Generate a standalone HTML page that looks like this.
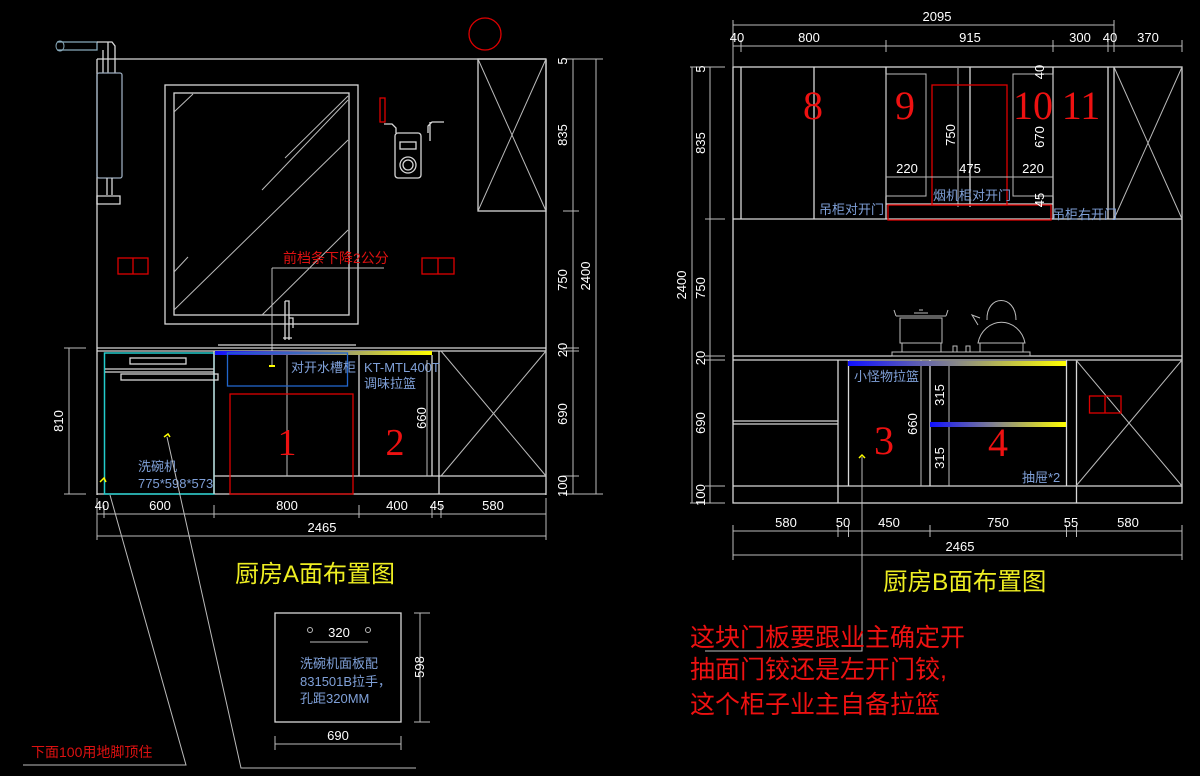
<!DOCTYPE html>
<html><head><meta charset="utf-8"><style>
html,body{margin:0;padding:0;background:#000;}
svg{display:block;}
text{font-family:"Liberation Sans","Noto Sans CJK SC",sans-serif;}
text.sf{font-family:"Liberation Serif",serif;}
.d{fill:#fff;font-size:13px;}
.w{stroke:#d8d8d8;stroke-width:1.3;fill:none;}
.g{stroke:#bbb;stroke-width:1;fill:none;}
.r{stroke:#d00;stroke-width:1.3;fill:none;}
.b{fill:#7fa0d8;font-size:13px;}
</style></head><body>
<svg width="1200" height="776" viewBox="0 0 1200 776" xmlns="http://www.w3.org/2000/svg">
<defs>
<linearGradient id="gr" x1="0" x2="1"><stop offset="0" stop-color="#1010ff"/><stop offset="0.5" stop-color="#888"/><stop offset="1" stop-color="#ffff00"/></linearGradient>
</defs>

<!-- ===== LEFT (A) ===== -->
<circle cx="485" cy="34" r="16" class="r"/>
<line x1="97" y1="59" x2="546" y2="59" class="w"/>
<line x1="97" y1="59" x2="97" y2="495" class="w"/>
<line x1="546" y1="59" x2="546" y2="495" class="w"/>
<rect x="165" y="85" width="193" height="239" class="w"/>
<rect x="174" y="93" width="175" height="222" class="w"/>
<line x1="174" y1="310" x2="348" y2="140" class="g"/>
<line x1="262" y1="315" x2="348" y2="230" class="g"/>
<line x1="262" y1="190" x2="348" y2="100" class="g"/>
<line x1="285" y1="158" x2="348" y2="96" class="g"/>
<line x1="174" y1="112" x2="193" y2="94" class="g"/>
<line x1="174" y1="272" x2="188" y2="257" class="g"/>
<rect x="478" y="59" width="68" height="152" class="w"/>
<line x1="478" y1="59" x2="546" y2="211" class="g"/><line x1="546" y1="59" x2="478" y2="211" class="g"/>
<path d="M57 42 L97 42 L97 50 L57 50" class="w" style="stroke:#8ab"/>
<ellipse cx="60" cy="46" rx="4" ry="5" class="g" style="stroke:#8ab"/>
<path d="M97 42 L112 42 L115 46 L115 73 M103 50 L103 73 M108 42 L108 73" class="w"/>
<rect x="97" y="73" width="25" height="105" rx="2" class="w" style="stroke:#9ab"/>
<path d="M107 178 L107 195 M112 178 L112 195 M97 196 L120 196 L120 204 L97 204 Z" class="w"/>
<rect x="118" y="258" width="30" height="16" class="r"/><line x1="133" y1="258" x2="133" y2="274" class="r"/>
<rect x="422" y="258" width="32" height="16" class="r"/><line x1="438" y1="258" x2="438" y2="274" class="r"/>
<rect x="380" y="98" width="5" height="24" class="r"/>
<path d="M384 124 L392 124 L396 128 L396 133 M428 133 L428 126 L432 122 L444 122 M430 122 L430 141" class="w"/>
<rect x="395" y="133" width="26" height="45" rx="3" class="w"/>
<rect x="400" y="142" width="16" height="7" class="w"/>
<circle cx="408" cy="165" r="8" class="w"/><circle cx="408" cy="165" r="5" class="w"/>
<text x="283" y="263" fill="#d11" font-size="14">前档条下降2公分</text>
<line x1="272" y1="268" x2="384" y2="268" class="g"/>
<line x1="272" y1="268" x2="272" y2="367" class="g"/>
<path d="M269 366 L275 366" stroke="#ff0" stroke-width="2"/>
<path d="M285 301 L289 301 L289 340 M285 301 L285 340 M283 338 L292 338 M289 318 L293 318 L293 328" class="w"/>
<line x1="97" y1="348" x2="546" y2="348" class="w"/>
<line x1="97" y1="351" x2="546" y2="351" class="w"/>
<line x1="218" y1="345" x2="356" y2="345" class="w"/>
<line x1="97" y1="494" x2="546" y2="494" class="w"/>
<line x1="214" y1="476" x2="546" y2="476" class="w"/>
<rect x="215" y="351" width="217" height="4" fill="url(#gr)"/>
<rect x="104.5" y="353" width="109.5" height="141" fill="none" stroke="#2cc" stroke-width="1.5"/>
<line x1="105" y1="369" x2="214" y2="369" class="w"/><line x1="105" y1="372" x2="214" y2="372" class="w"/>
<rect x="130" y="358" width="56" height="6" class="w"/>
<rect x="121" y="374" width="97" height="6" class="w"/>
<text x="138" y="471" class="b">洗碗机</text>
<text x="138" y="488" class="b" font-size="12">775*598*573</text>
<path d="M164 437 L168 434 L170 437" stroke="#ff0" fill="none" stroke-width="1.5"/>
<path d="M100 482 L104 478 L106 482" stroke="#ff0" fill="none" stroke-width="1.5"/>
<line x1="214" y1="351" x2="214" y2="494" class="w"/>
<line x1="287" y1="355" x2="287" y2="476" class="g"/>
<line x1="359" y1="355" x2="359" y2="476" class="w"/>
<line x1="432" y1="355" x2="432" y2="476" class="w"/>
<line x1="439" y1="351" x2="439" y2="494" class="w"/>
<rect x="227.5" y="353" width="120" height="33" fill="none" stroke="#26c" stroke-width="1.3"/>
<text x="291" y="372" class="b" font-size="14">对开水槽柜</text>
<rect x="230" y="394" width="123" height="100" class="r"/>
<text x="287" y="455" class="sf" fill="#e11" font-size="38" text-anchor="middle">1</text>
<text x="364" y="372" class="b" font-size="12">KT-MTL400T</text>
<text x="364" y="388" class="b" font-size="14">调味拉篮</text>
<text x="395" y="455" class="sf" fill="#e11" font-size="38" text-anchor="middle">2</text>
<line x1="427" y1="360" x2="427" y2="476" class="g"/>
<text class="d" transform="translate(426,418) rotate(-90)" text-anchor="middle">660</text>
<line x1="441" y1="351" x2="546" y2="476" class="g"/><line x1="546" y1="351" x2="441" y2="476" class="g"/>
<line x1="573" y1="59" x2="573" y2="494" class="g"/>
<line x1="596" y1="59" x2="596" y2="494" class="g"/>
<g class="g"><path d="M563 59h40 M563 211h16 M563 348h16 M563 351h16 M563 476h16 M563 494h40"/></g>
<text class="d" transform="translate(567,61) rotate(-90)" text-anchor="middle">5</text>
<text class="d" transform="translate(567,135) rotate(-90)" text-anchor="middle">835</text>
<text class="d" transform="translate(567,280) rotate(-90)" text-anchor="middle">750</text>
<text class="d" transform="translate(567,350) rotate(-90)" text-anchor="middle">20</text>
<text class="d" transform="translate(567,414) rotate(-90)" text-anchor="middle">690</text>
<text class="d" transform="translate(567,486) rotate(-90)" text-anchor="middle">100</text>
<text class="d" transform="translate(590,276) rotate(-90)" text-anchor="middle">2400</text>
<line x1="69" y1="348" x2="69" y2="494" class="g"/>
<path d="M64 348h22 M64 494h22" class="g"/>
<text class="d" transform="translate(63,421) rotate(-90)" text-anchor="middle">810</text>
<line x1="97" y1="514" x2="546" y2="514" class="g"/>
<line x1="97" y1="536" x2="546" y2="536" class="g"/>
<g class="g"><path d="M97 498v42 M104 505v13 M214 505v13 M359 505v13 M432 505v13 M441 505v13 M546 498v42"/></g>
<g class="d" text-anchor="middle"><text x="102" y="510">40</text><text x="160" y="510">600</text><text x="287" y="510">800</text><text x="397" y="510">400</text><text x="437" y="510">45</text><text x="493" y="510">580</text><text x="322" y="532">2465</text></g>
<text x="235" y="582" fill="#ee2" font-size="24">厨房A面布置图</text>
<path d="M23 765 L186 765 L110 495" class="g"/>
<path d="M416 768 L241 768 L167 437" class="g"/>
<text x="31" y="757" fill="#d11" font-size="14">下面100用地脚顶住</text>
<rect x="275" y="613" width="126" height="109" class="w"/>
<circle cx="310" cy="630" r="2.5" class="g"/><circle cx="368" cy="630" r="2.5" class="g"/>
<text x="339" y="637" class="d" text-anchor="middle">320</text>
<line x1="310" y1="642" x2="368" y2="642" class="g"/>
<text x="300" y="668" class="b">洗碗机面板配</text>
<text x="300" y="686" class="b">831501B拉手，</text>
<text x="300" y="703" class="b">孔距320MM</text>
<line x1="420" y1="613" x2="420" y2="722" class="g"/>
<path d="M414 613h16 M414 722h16" class="g"/>
<text class="d" transform="translate(424,667) rotate(-90)" text-anchor="middle">598</text>
<line x1="275" y1="744" x2="401" y2="744" class="g"/>
<path d="M275 736v14 M401 736v14" class="g"/>
<text x="338" y="740" class="d" text-anchor="middle">690</text>

<!-- ===== RIGHT (B) ===== -->
<rect x="733" y="67" width="449" height="436" class="w"/>
<line x1="733" y1="219" x2="1182" y2="219" class="w"/>
<line x1="733" y1="356" x2="1182" y2="356" class="w"/>
<line x1="733" y1="360" x2="1182" y2="360" class="w"/>
<line x1="733" y1="486" x2="1182" y2="486" class="w"/>
<g class="w"><path d="M741 67v152 M814 67v152 M886 67v152 M970 67v140 M1053 67v152 M1108 67v152 M1114 67v152"/></g>
<rect x="886" y="74" width="40" height="122" class="g"/>
<rect x="1013" y="74" width="40" height="122" class="g"/>
<line x1="958" y1="68" x2="958" y2="207" class="g"/>
<line x1="886" y1="204" x2="1053" y2="204" class="w"/>
<rect x="932" y="85" width="75" height="120" class="r"/>
<rect x="888" y="205" width="163" height="15" class="r"/>
<line x1="1114" y1="67" x2="1182" y2="219" class="g"/><line x1="1182" y1="67" x2="1114" y2="219" class="g"/>
<g fill="#e11" font-size="40" text-anchor="middle"><text class="sf" x="813" y="119">8</text><text class="sf" x="905" y="119">9</text><text class="sf" x="1033" y="119">10</text><text class="sf" x="1081" y="119">11</text></g>
<g class="d" text-anchor="middle"><text x="907" y="173">220</text><text x="970" y="173">475</text><text x="1033" y="173">220</text></g>
<line x1="886" y1="177" x2="1053" y2="177" class="g"/>
<text class="d" transform="translate(955,135) rotate(-90)" text-anchor="middle">750</text>
<text class="d" transform="translate(1044,137) rotate(-90)" text-anchor="middle">670</text>
<text class="d" transform="translate(1044,72) rotate(-90)" text-anchor="middle">40</text>
<text class="d" transform="translate(1044,200) rotate(-90)" text-anchor="middle">45</text>
<text x="819" y="214" class="b">吊柜对开门</text>
<text x="933" y="200" class="b">烟机柜对开门</text>
<text x="1052" y="219" class="b">吊柜右开门</text>
<line x1="733" y1="25" x2="1114" y2="25" class="g"/>
<line x1="733" y1="46" x2="1182" y2="46" class="g"/>
<g class="g"><path d="M733 20v47 M741 40v12 M886 40v12 M1053 40v12 M1108 40v12 M1114 20v32 M1182 40v12"/></g>
<g class="d" text-anchor="middle"><text x="937" y="21">2095</text><text x="737" y="42">40</text><text x="809" y="42">800</text><text x="970" y="42">915</text><text x="1080" y="42">300</text><text x="1110" y="42">40</text><text x="1148" y="42">370</text></g>
<g class="g" stroke="#ddd">
<path d="M892 352 L1030 352 L1030 356 L892 356 Z"/>
<rect x="900" y="318" width="42" height="25"/>
<path d="M896 316 L946 316 M914 313 L928 313 M919 310 L923 310 M896 316 L894 310 M946 316 L948 310"/>
<rect x="902" y="343" width="39" height="9"/>
<path d="M978 343 A24 26 0 0 1 1025 343 Z"/>
<path d="M987 320 C986 294 1016 294 1016 320"/>
<path d="M978 325 L972 315 L980 318"/>
<rect x="980" y="343" width="43" height="9"/>
<rect x="953" y="346" width="4" height="6"/><rect x="966" y="346" width="4" height="6"/>
</g>
<line x1="838" y1="360" x2="838" y2="503" class="w"/>
<line x1="848.5" y1="360" x2="848.5" y2="486" class="w"/>
<line x1="921" y1="360" x2="921" y2="486" class="g"/>
<line x1="930" y1="360" x2="930" y2="486" class="w"/>
<line x1="949" y1="365" x2="949" y2="486" class="g"/>
<line x1="1066.5" y1="360" x2="1066.5" y2="486" class="w"/>
<line x1="1076.5" y1="360" x2="1076.5" y2="503" class="w"/>
<line x1="733" y1="421" x2="838" y2="421" class="w"/><line x1="733" y1="424" x2="838" y2="424" class="w"/>
<rect x="848" y="361" width="218" height="5" fill="url(#gr)"/>
<rect x="930" y="422" width="136" height="5" fill="url(#gr)"/>
<text x="854" y="381" class="b">小怪物拉篮</text>
<text x="1022" y="482" class="b">抽屉*2</text>
<g fill="#e11" font-size="40" text-anchor="middle"><text class="sf" x="884" y="454">3</text><text class="sf" x="998" y="456">4</text></g>
<text class="d" transform="translate(917,424) rotate(-90)" text-anchor="middle">660</text>
<text class="d" transform="translate(944,395) rotate(-90)" text-anchor="middle">315</text>
<text class="d" transform="translate(944,458) rotate(-90)" text-anchor="middle">315</text>
<line x1="1076" y1="360" x2="1182" y2="486" class="g"/><line x1="1182" y1="360" x2="1076" y2="486" class="g"/>
<rect x="1089.5" y="396" width="31.5" height="17" class="r"/><line x1="1105" y1="396" x2="1105" y2="413" class="r"/>
<path d="M859 458 L862 455 L865 458" stroke="#ff0" fill="none" stroke-width="1.5"/>
<path d="M862 457 L862 651 L705 651" class="g"/>
<line x1="710" y1="67" x2="710" y2="503" class="g"/>
<line x1="692" y1="67" x2="692" y2="503" class="g"/>
<g class="g"><path d="M690 67h35 M705 219h20 M705 356h20 M705 360h20 M705 486h20 M690 503h35"/></g>
<text class="d" transform="translate(705,69) rotate(-90)" text-anchor="middle">5</text>
<text class="d" transform="translate(705,143) rotate(-90)" text-anchor="middle">835</text>
<text class="d" transform="translate(705,288) rotate(-90)" text-anchor="middle">750</text>
<text class="d" transform="translate(705,358) rotate(-90)" text-anchor="middle">20</text>
<text class="d" transform="translate(705,423) rotate(-90)" text-anchor="middle">690</text>
<text class="d" transform="translate(705,495) rotate(-90)" text-anchor="middle">100</text>
<text class="d" transform="translate(686,285) rotate(-90)" text-anchor="middle">2400</text>
<line x1="733" y1="531" x2="1182" y2="531" class="g"/>
<line x1="733" y1="555" x2="1182" y2="555" class="g"/>
<g class="g"><path d="M733 525v35 M838 525v12 M848.5 525v12 M930 525v12 M1066.5 525v12 M1076.5 525v12 M1182 525v35"/></g>
<g class="d" text-anchor="middle"><text x="786" y="527">580</text><text x="843" y="527">50</text><text x="889" y="527">450</text><text x="998" y="527">750</text><text x="1071" y="527">55</text><text x="1128" y="527">580</text><text x="960" y="551">2465</text></g>
<text x="883" y="590" fill="#ee2" font-size="24.5">厨房B面布置图</text>
<g fill="#e11" font-size="25"><text x="690" y="646">这块门板要跟业主确定开</text><text x="690" y="678">抽面门铰还是左开门铰,</text><text x="690" y="713">这个柜子业主自备拉篮</text></g>
</svg>
</body></html>
